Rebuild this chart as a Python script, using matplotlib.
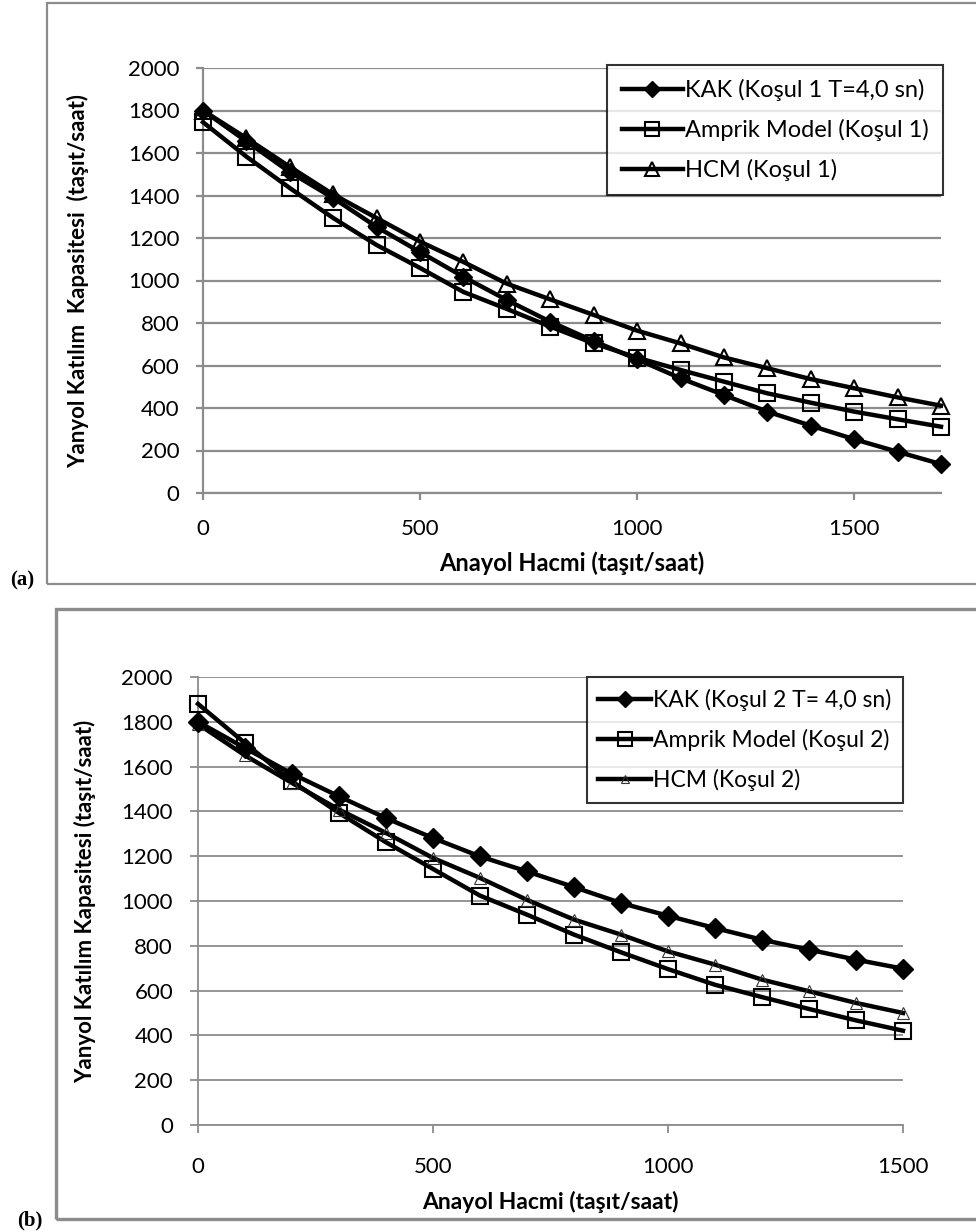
import matplotlib
matplotlib.use("Agg")
from matplotlib import pyplot as plt
from matplotlib.patches import Rectangle

# panel (a) data, x = anayol hacmi (taşıt/saat)
x_a = [0, 100, 200, 300, 400, 500, 600, 700, 800, 900, 1000, 1100, 1200, 1300, 1400, 1500, 1600, 1700]
kak_a = [1800, 1655, 1510, 1388, 1252, 1134, 1017, 908, 806, 715, 629, 540, 461, 383, 317, 253, 194, 136]
amprik_a = [1745, 1583, 1435, 1294, 1167, 1059, 946, 866, 783, 704, 637, 579, 524, 469, 425, 383, 347, 312]
hcm_a = [1800, 1670, 1535, 1405, 1294, 1183, 1087, 985, 911, 838, 764, 704, 638, 587, 536, 493, 450, 411]
labels_a = ["KAK (Koşul 1 T=4,0 sn)", "Amprik Model (Koşul 1)", "HCM (Koşul 1)"]

# panel (b) data
x_b = [0, 100, 200, 300, 400, 500, 600, 700, 800, 900, 1000, 1100, 1200, 1300, 1400, 1500]
kak_b = [1800, 1683, 1568, 1467, 1370, 1281, 1199, 1132, 1062, 991, 934, 879, 827, 783, 738, 698]
amprik_b = [1880, 1705, 1534, 1393, 1262, 1143, 1024, 939, 850, 771, 696, 626, 571, 518, 467, 421]
hcm_b = [1790, 1650, 1527, 1408, 1304, 1192, 1103, 1005, 917, 850, 775, 716, 649, 597, 545, 500]
labels_b = ["KAK (Koşul 2 T= 4,0 sn)", "Amprik Model (Koşul 2)", "HCM (Koşul 2)"]

ylabel_a = "Yanyol Katılım  Kapasitesi  (taşıt/saat)"
ylabel_b = "Yanyol Katılım Kapasitesi (taşıt/saat)"
xlabel = "Anayol Hacmi (taşıt/saat)"

W, H = 976, 1232
plt.rcParams['font.family'] = ['Lato', 'DejaVu Sans']
fig = plt.figure(figsize=(W / 100, H / 100), dpi=100)


def px_axes(l, t, r, b):
    return fig.add_axes([l / W, 1 - b / H, (r - l) / W, (b - t) / H])


def style(ax, xmax, gridw, ticklen, xpad, ypad):
    ax.set_xlim(0, xmax)
    ax.set_ylim(0, 2000)
    ax.set_yticks(range(0, 2001, 200))
    ax.set_xticks([0, 500, 1000, 1500])
    ax.grid(axis="y", color="#8c8c8c", lw=gridw)
    ax.set_axisbelow(True)
    for s in ["top", "right"]:
        ax.spines[s].set_visible(False)
    for s in ["left", "bottom"]:
        ax.spines[s].set_color("#8c8c8c")
        ax.spines[s].set_linewidth(gridw)
    ax.tick_params(axis="both", colors="#8c8c8c", labelcolor="black",
                   labelsize=16, length=ticklen, width=gridw)
    ax.tick_params(axis="x", pad=xpad)
    ax.tick_params(axis="y", pad=ypad)


# ---------- (a) ----------
ax1 = px_axes(203, 68, 941, 493)
ax1.plot(x_a, kak_a, color="black", lw=3.2, marker="D", ms=9, mfc="black", mec="black", label=labels_a[0], clip_on=False, zorder=4)
ax1.plot(x_a, amprik_a, color="black", lw=3.2, marker="s", ms=12, mfc="none", mec="black", mew=1.5, label=labels_a[1], clip_on=False, zorder=3)
ax1.plot(x_a, hcm_a, color="black", lw=3.2, marker="^", ms=12, mfc="none", mec="black", mew=1.5, label=labels_a[2], clip_on=False, zorder=3)
style(ax1, 1700, 1.6, 5, 14, 12)
ax1.set_ylabel(ylabel_a, fontsize=16, fontweight="bold", labelpad=28)
ax1.set_xlabel(xlabel, fontsize=17, fontweight="bold", labelpad=9)
leg1 = ax1.legend(loc="upper right", bbox_to_anchor=(1.003, 1.007), fontsize=17, frameon=True,
                  fancybox=False, edgecolor="black", handlelength=2.6, handletextpad=0.1,
                  labelspacing=0.75, borderpad=0.6, borderaxespad=0, markerscale=0.85)
leg1.get_frame().set_linewidth(1.5)

# ---------- (b) ----------
ax2 = px_axes(198, 677, 903, 1125)
ax2.plot(x_b, kak_b, color="black", lw=3.2, marker="D", ms=10, mfc="black", mec="black", label=labels_b[0], clip_on=False, zorder=4)
ax2.plot(x_b, amprik_b, color="black", lw=3.2, marker="s", ms=12, mfc="none", mec="black", mew=1.5, label=labels_b[1], clip_on=False, zorder=3)
ax2.plot(x_b, hcm_b, color="black", lw=3.2, marker="^", ms=8, mfc="none", mec="#333333", mew=0.8, label=labels_b[2], clip_on=False, zorder=3)
style(ax2, 1500, 1.3, 6, 17, 12)
ax2.set_ylabel(ylabel_b, fontsize=16, labelpad=18, fontweight="bold")
ax2.set_xlabel(xlabel, fontsize=16.5, fontweight="bold", labelpad=10)
leg2 = ax2.legend(loc="upper right", bbox_to_anchor=(1.0, 1.0), fontsize=16.5, frameon=True,
                  fancybox=False, edgecolor="black", handlelength=2.3, handletextpad=0.1,
                  labelspacing=0.8, borderpad=0.5, borderaxespad=0, markerscale=0.8)
leg2.get_frame().set_linewidth(1.5)

# outer frames and panel letters
fig.add_artist(Rectangle((47 / W, 1 - 584 / H), 1.0, (584 - 3) / H, transform=fig.transFigure,
                         fill=False, edgecolor="#8c8c8c", lw=1.6))
fig.add_artist(Rectangle((56 / W, 1 - 1219 / H), 1.0, (1219 - 609) / H, transform=fig.transFigure,
                         fill=False, edgecolor="#8c8c8c", lw=2.4))
fig.text(10 / W, 1 - 580 / H, "(a)", fontsize=15, fontweight="bold", family="Liberation Serif", va="center")
fig.text(17 / W, 1 - 1220 / H, "(b)", fontsize=15, fontweight="bold", family="Liberation Serif", va="center")

fig.savefig("out.png", dpi=100)
